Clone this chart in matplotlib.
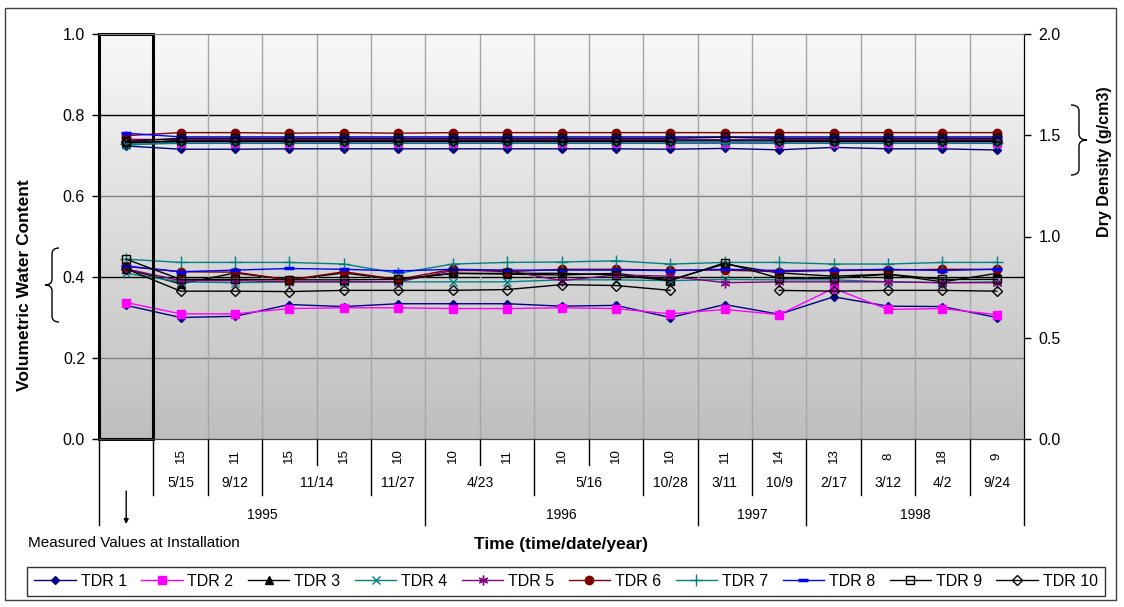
import numpy as np
import matplotlib
matplotlib.use("Agg")
import matplotlib.pyplot as plt
from matplotlib.patches import Rectangle, PathPatch
from matplotlib.path import Path
from matplotlib.transforms import blended_transform_factory

plt.rcParams['font.family'] = ['Liberation Sans', 'DejaVu Sans']

# ---- data -------------------------------------------------------------
hours = ["", "15", "11", "15", "15", "10", "10", "11", "10", "10", "10",
         "11", "14", "13", "8", "18", "9"]
# (label, first index, last index)
dates = [("5/15", 1, 1), ("9/12", 2, 2), ("11/14", 3, 4), ("11/27", 5, 5),
         ("4/23", 6, 7), ("5/16", 8, 9), ("10/28", 10, 10), ("3/11", 11, 11),
         ("10/9", 12, 12), ("2/17", 13, 13), ("3/12", 14, 14), ("4/2", 15, 15),
         ("9/24", 16, 16)]
years = [("1995", 0, 5), ("1996", 6, 10), ("1997", 11, 12), ("1998", 13, 16)]

nan = np.nan
# volumetric water content (left axis)
wc_tdr1 = [0.330, 0.300, 0.303, 0.332, 0.327, 0.334, 0.334, 0.334, 0.328, 0.330, 0.300, 0.332, 0.308, 0.351, 0.328, 0.327, 0.300]
wc_tdr2 = [0.337, 0.309, 0.309, 0.322, 0.324, 0.324, 0.322, 0.322, 0.324, 0.322, 0.309, 0.320, 0.307, 0.372, 0.320, 0.322, 0.307]
wc_tdr3 = [0.420, 0.383, 0.410, 0.393, 0.410, 0.393, 0.409, 0.407, 0.405, 0.409, 0.393, 0.432, 0.410, 0.402, 0.407, 0.388, 0.409]
wc_tdr4 = [0.409, 0.388, 0.386, 0.388, 0.388, 0.388, 0.388, 0.388, 0.393, 0.393, 0.391, 0.394, 0.393, 0.393, 0.388, 0.386, 0.388]
wc_tdr5 = [0.420, 0.391, 0.391, 0.388, 0.388, 0.388, 0.416, 0.416, 0.391, 0.405, 0.402, 0.386, 0.388, 0.388, 0.388, 0.386, 0.386]
wc_tdr6 = [0.426, 0.413, 0.412, 0.393, 0.413, 0.394, 0.419, 0.413, 0.419, 0.419, 0.417, 0.417, 0.413, 0.416, 0.417, 0.419, 0.419]
wc_tdr7 = [0.444, 0.436, 0.436, 0.436, 0.432, 0.409, 0.432, 0.436, 0.437, 0.440, 0.432, 0.436, 0.436, 0.432, 0.432, 0.436, 0.436]
wc_tdr8 = [0.427, 0.413, 0.417, 0.421, 0.419, 0.415, 0.419, 0.417, 0.417, 0.417, 0.416, 0.419, 0.416, 0.417, 0.419, 0.416, 0.419]
wc_tdr9 = [0.444, 0.394, 0.394, 0.393, 0.393, 0.394, 0.409, 0.409, 0.409, 0.405, 0.391, 0.435, 0.397, 0.397, 0.407, 0.394, 0.394]
wc_tdr10 = [0.420, 0.365, 0.365, 0.364, 0.367, 0.367, 0.367, 0.369, 0.381, 0.379, 0.367, nan, 0.367, 0.365, 0.367, 0.367, 0.365]

# dry density (right axis)
dd_tdr1 = [1.447, 1.431, 1.431, 1.433, 1.433, 1.433, 1.433, 1.433, 1.433, 1.433, 1.431, 1.435, 1.428, 1.440, 1.433, 1.433, 1.427]
dd_tdr2 = [1.470, 1.462, 1.462, 1.462, 1.462, 1.462, 1.462, 1.462, 1.462, 1.462, 1.462, 1.463, 1.462, 1.462, 1.462, 1.462, 1.462]
dd_tdr3 = [1.460, 1.475, 1.475, 1.475, 1.475, 1.475, 1.475, 1.475, 1.475, 1.475, 1.475, 1.475, 1.475, 1.475, 1.475, 1.475, 1.475]
dd_tdr4 = [1.450, 1.468, 1.468, 1.468, 1.468, 1.468, 1.468, 1.468, 1.468, 1.468, 1.468, 1.468, 1.468, 1.468, 1.468, 1.468, 1.468]
dd_tdr5 = [1.480, 1.478, 1.478, 1.478, 1.478, 1.478, 1.478, 1.478, 1.478, 1.478, 1.478, 1.478, 1.478, 1.478, 1.478, 1.478, 1.478]
dd_tdr6 = [1.498, 1.513, 1.513, 1.510, 1.513, 1.510, 1.513, 1.513, 1.513, 1.513, 1.513, 1.513, 1.513, 1.513, 1.513, 1.513, 1.513]
dd_tdr7 = [1.455, 1.460, 1.460, 1.460, 1.460, 1.460, 1.460, 1.460, 1.460, 1.460, 1.460, 1.460, 1.460, 1.460, 1.460, 1.460, 1.460]
dd_tdr8 = [1.510, 1.492, 1.492, 1.492, 1.492, 1.492, 1.492, 1.492, 1.492, 1.492, 1.492, 1.492, 1.492, 1.492, 1.492, 1.492, 1.492]
dd_tdr9 = [1.470, 1.485, 1.485, 1.485, 1.485, 1.485, 1.485, 1.485, 1.485, 1.485, 1.485, 1.490, 1.485, 1.485, 1.485, 1.485, 1.485]
dd_tdr10 = [1.465, 1.470, 1.470, 1.470, 1.470, 1.470, 1.470, 1.470, 1.470, 1.470, 1.470, nan, 1.470, 1.470, 1.470, 1.470, 1.470]

series_names = ["TDR 1", "TDR 2", "TDR 3", "TDR 4", "TDR 5",
                "TDR 6", "TDR 7", "TDR 8", "TDR 9", "TDR 10"]
water = [wc_tdr1, wc_tdr2, wc_tdr3, wc_tdr4, wc_tdr5,
         wc_tdr6, wc_tdr7, wc_tdr8, wc_tdr9, wc_tdr10]
density = [dd_tdr1, dd_tdr2, dd_tdr3, dd_tdr4, dd_tdr5,
           dd_tdr6, dd_tdr7, dd_tdr8, dd_tdr9, dd_tdr10]

# ---- styles -----------------------------------------------------------
styles = [
    dict(color="#000080", marker="D", ms=4.5, mfc="#000080", mec="#000080"),
    dict(color="#FF00FF", marker="s", ms=6, mfc="#FF00FF", mec="#FF00FF"),
    dict(color="#000000", marker="^", ms=5.5, mfc="#000000", mec="#000000"),
    dict(color="#008080", marker="x", ms=6, mfc="none", mec="#008080", mew=1),
    dict(color="#800080", marker=(6, 2, 0), ms=7, mfc="none", mec="#800080", mew=1),
    dict(color="#800000", marker="o", ms=6, mfc="#800000", mec="#800000"),
    dict(color="#008080", marker="+", ms=8, mfc="none", mec="#008080", mew=1),
    dict(color="#0000FF", marker="_", ms=7, mfc="#0000FF", mec="#0000FF", mew=2.5),
    dict(color="#000000", marker="s", ms=5.5, mfc="none", mec="#000000", mew=1),
    dict(color="#000000", marker="D", ms=5, mfc="none", mec="#000000", mew=1),
]

W, H = 1124, 607
fig = plt.figure(figsize=(W / 100, H / 100), dpi=100)
L, R, T, B = 99, 1024, 34, 439
ax = fig.add_axes([L / W, 1 - B / H, (R - L) / W, (B - T) / H])
ax2 = ax.twinx()

n = len(hours)
x = np.arange(n)

# gradient plot area: light at the top, darker grey at the bottom
grad = np.linspace(0, 1, 256).reshape(-1, 1)
top_c = np.array([0.972, 0.972, 0.972])
bot_c = np.array([0.745, 0.745, 0.745])
img = top_c[None, None, :] * (1 - grad[:, :, None]) + bot_c[None, None, :] * grad[:, :, None]
ax.imshow(img, extent=[-0.5, n - 0.5, 0.0, 1.0], origin="upper", aspect="auto",
          zorder=0, interpolation="bilinear")
ax.set_xlim(-0.5, n - 0.5)
ax.set_ylim(0, 1.0)
ax2.set_ylim(0, 2.0)

# grid lines
for yv, c in [(0.2, "#808080"), (0.4, "#000000"), (0.6, "#808080"), (0.8, "#000000")]:
    ax.axhline(yv, color=c, lw=1.0, zorder=1)
for k in range(1, n - 1):
    ax.axvline(k + 0.5, color="#a6a6a6", lw=1.0, zorder=1)

# series
for name, wv, dv, st in zip(series_names, water, density, styles):
    kw = dict(st)
    color = kw.pop("color")
    ax.plot(x, wv, color=color, lw=1.0, label=name, zorder=3, **kw)
    ax2.plot(x, dv, color=color, lw=1.0, zorder=3, **kw)

# installation column frame
ax.add_patch(Rectangle((-0.5, 0), 1, 1.0, fill=False, ec="black", lw=2.2,
                       zorder=10, clip_on=False))

# axes styling
for a in (ax, ax2):
    a.spines["top"].set_color("#808080")
    a.spines["bottom"].set_color("#404040")
    a.spines["left"].set_color("black")
    a.spines["right"].set_color("black")
ax.set_yticks(np.arange(0, 1.01, 0.2))
ax.set_yticklabels([f"{v:.1f}" for v in np.arange(0, 1.01, 0.2)])
ax2.set_yticks(np.arange(0, 2.01, 0.5))
ax2.set_yticklabels([f"{v:.1f}" for v in np.arange(0, 2.01, 0.5)])
ax.tick_params(axis="y", direction="out", length=5, width=1, labelsize=11.5, pad=5)
ax2.tick_params(axis="y", direction="out", length=5, width=1, labelsize=11.5, pad=5.5)
ax.set_xticks([])
ax2.set_xticks([])

# multi-level category labels
tr = blended_transform_factory(ax.transData, ax.transAxes)
ax_h = B - T


def ay(py):
    return -(py - B) / ax_h


for i, h in enumerate(hours):
    if h:
        ax.text(i, ay(456), h, rotation=90, ha="center", va="center",
                fontsize=9.5, transform=tr)
for lab, a0, a1 in dates:
    ax.text((a0 + a1) / 2, ay(483), lab, ha="center", va="center",
            fontsize=10, transform=tr)
for lab, a0, a1 in years:
    ax.text((a0 + a1) / 2, ay(515), lab, ha="center", va="center",
            fontsize=10, transform=tr)

hour_bounds = [3.5, 6.5, 8.5]
date_bounds = [0.5, 1.5, 2.5, 4.5, 7.5, 9.5, 11.5, 13.5, 14.5, 15.5]
year_bounds = [-0.5, 5.5, 10.5, 12.5, 16.5]
for xb in hour_bounds:
    ax.plot([xb, xb], [0, ay(465)], color="black", lw=1, transform=tr, clip_on=False)
for xb in date_bounds:
    ax.plot([xb, xb], [0, ay(495)], color="black", lw=1, transform=tr, clip_on=False)
for xb in year_bounds:
    ax.plot([xb, xb], [0, ay(525)], color="black", lw=1, transform=tr, clip_on=False)

# installation note with arrow
ax.annotate("", xy=(0, ay(524)), xytext=(0, ay(491)), xycoords=tr, textcoords=tr,
            arrowprops=dict(arrowstyle="-|>", color="black", lw=1,
                            mutation_scale=7, shrinkA=0, shrinkB=0))
fig.text(28 / W, 1 - 543 / H, "Measured Values at Installation", fontsize=11,
         ha="left", va="center")
fig.text(561 / W, 1 - 545 / H, "Time (time/date/year)", fontsize=12.5,
         fontweight="bold", ha="center", va="center")

# axis titles
fig.text(25 / W, 1 - 285 / H, "Volumetric Water Content", rotation=90,
         fontsize=12.5, fontweight="bold", ha="center", va="center")
fig.text(1104 / W, 1 - 162 / H, "Dry Density (g/cm3)", rotation=90,
         fontsize=11.5, fontweight="bold", ha="center", va="center")


def brace(x_tip, x_back, y0, y1, r=6):
    """Curly brace in pixel coordinates, tip at x_tip, arm ends at x_back."""
    ym = (y0 + y1) / 2
    xm = (x_tip + x_back) / 2
    pts = [
        (x_back, y0),
        (xm, y0), (xm, y0 + r),
        (xm, ym - r),
        (xm, ym), (x_tip, ym),
        (xm, ym), (xm, ym + r),
        (xm, y1 - r),
        (xm, y1), (x_back, y1),
    ]
    codes = [Path.MOVETO,
             Path.CURVE3, Path.CURVE3,
             Path.LINETO,
             Path.CURVE3, Path.CURVE3,
             Path.CURVE3, Path.CURVE3,
             Path.LINETO,
             Path.CURVE3, Path.CURVE3]
    verts = [(px / W, 1 - py / H) for px, py in pts]
    fig.add_artist(PathPatch(Path(verts, codes), fill=False, lw=1, ec="black",
                             transform=fig.transFigure))


brace(45, 59, 248, 322)
brace(1087, 1071, 105, 175)

# legend
handles, labels = ax.get_legend_handles_labels()
leg = fig.legend(handles, labels, loc="lower left", ncol=10, mode="expand",
                 bbox_to_anchor=(27 / W, 1 - 596 / H, 1078 / W, 33 / H),
                 fontsize=11.5, frameon=True, fancybox=False, handlelength=2.6,
                 handletextpad=0.3, columnspacing=0.6, borderaxespad=0,
                 borderpad=0.45)
leg.get_frame().set_edgecolor("black")
leg.get_frame().set_linewidth(1.0)

# outer frame
fig.add_artist(Rectangle((5 / W, 1 - 600 / H), 1111 / W, 592 / H, fill=False,
                         ec="#404040", lw=1, transform=fig.transFigure))

fig.savefig("out.png", dpi=100, facecolor="white")
